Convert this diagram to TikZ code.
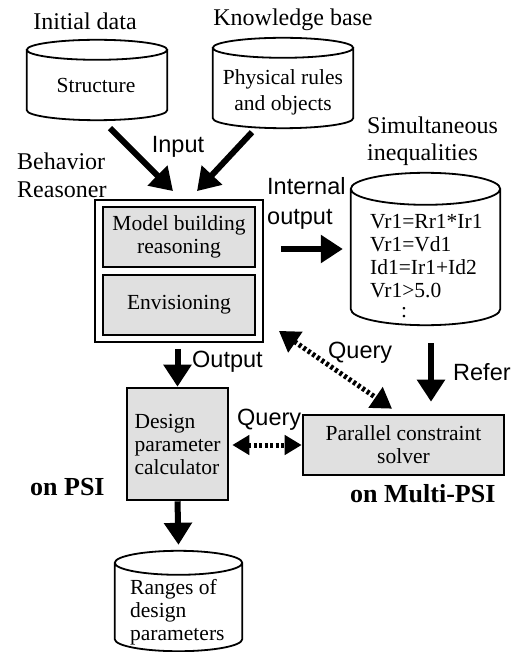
\documentclass[tikz,border=0pt]{standalone}
\usepackage{fontspec}
\setmainfont{Liberation Serif}
\newfontfamily\hv{Liberation Sans}
\usetikzlibrary{arrows.meta,calc}

% database drum drawn around the bounding box of a named node
\newcommand\drawdrum[2]{%
  \draw[drumline] let \p1=(#1.north west), \p2=(#1.south east), \n1={(\x2-\x1)/2} in
    (\x1,\y1-#2pt) -- (\x1,\y2+#2pt)
    arc[start angle=180,end angle=360,x radius=\n1,y radius=#2pt] -- (\x2,\y1-#2pt)
    (\x1+\n1,\y1-#2pt) ellipse[x radius=\n1,y radius=#2pt];
}

\begin{document}
\begin{tikzpicture}[x=1pt,y=-1pt,
  inner/.style={font=\fontsize{21.5}{23}\selectfont, inner sep=0pt},
  title/.style={font=\fontsize{24}{27.5}\selectfont, inner sep=0pt, align=left},
  sans/.style={font=\hv\fontsize{23.5}{30}\selectfont, inner sep=0pt, align=left},
  host/.style={font=\bfseries\fontsize{26}{30}\selectfont, inner sep=0pt},
  procbox/.style={draw, line width=2.6pt, fill=black!12, inner sep=0pt},
  frame/.style={draw, line width=1.8pt, inner sep=0pt},
  drumarea/.style={inner sep=0pt},
  drumline/.style={line width=1.8pt, fill=white},
  bigarrow/.style={line width=6pt, -{Triangle[length=22pt,width=27pt]}},
  dotarrow/.style={line width=5pt, dash pattern=on 3pt off 2.5pt,
     {Triangle[length=20pt,width=24pt]}-{Triangle[length=20pt,width=24pt]}},
  smalldot/.style={line width=5pt, dash pattern=on 3pt off 2.5pt,
     {Triangle[length=17pt,width=19pt]}-{Triangle[length=17pt,width=19pt]}},
]
\useasboundingbox (0,0) rectangle (518,652);

% ---- sources (multi-line nodes are placed by the baseline of their last line)
\node[title, anchor=base] (initlab) at (85,30) {Initial data};
\node[drumarea, minimum width=140, minimum height=80] (struct) at (97,80) {};
\drawdrum{struct}{10}
\node[inner, anchor=base] (structtxt) at (96,93) {Structure};

\node[title, anchor=base] (knowlab) at (293,26) {Knowledge base};
\node[drumarea, minimum width=140, minimum height=90] (know) at (283,83) {};
\drawdrum{know}{10}
\node[inner, anchor=base, align=center, font=\fontsize{21.5}{26}\selectfont] (knowtxt) at (283,111) {Physical rules\\and objects};

% ---- behavior reasoner
\node[title, anchor=base west] (reaslab) at (17,197) {Behavior\\Reasoner};
\node[frame, minimum width=168, minimum height=142] (reasoner) at (179,271) {};
\node[procbox, inner, minimum width=152, minimum height=60, align=center] (model) at (179,237) {Model building\\reasoning};
\node[procbox, inner, minimum width=152, minimum height=60] (envis) at (179,305) {Envisioning};

\node[sans, anchor=base] (inputlab) at (178,153) {Input};

% ---- inequalities store
\node[title, anchor=base west] (ineqlab) at (367,161) {Simultaneous\\inequalities};
\node[drumarea, minimum width=149, minimum height=152] (ineq) at (425.5,249) {};
\drawdrum{ineq}{16}
\node[inner, anchor=base west, align=left] (ineqtxt) at (370,297) {Vr1=Rr1*Ir1\\Vr1=Vd1\\Id1=Ir1+Id2\\Vr1>5.0};
\node[inner, anchor=base] (ineqdots) at (404,317) {:};
\node[sans, anchor=base west] (intlab) at (267,224) {Internal\\output};

% ---- calculators
\node[procbox, inner, minimum width=101, minimum height=112, align=left] (design) at (177.5,444) {Design\\parameter\\calculator};
\node[procbox, inner, minimum width=201, minimum height=60, align=center] (solver) at (403.5,445) {Parallel constraint\\solver};

\node[sans, anchor=base west] (outlab) at (192,367) {Output};
\node[sans, anchor=base west] (referlab) at (453,380) {Refer};
\node[sans, anchor=base west] (query1) at (328,358) {Query};
\node[sans, anchor=base west] (query2) at (237,425) {Query};
\node[host, anchor=base west] (psi) at (30,495) {on PSI};
\node[host, anchor=base west] (mpsi) at (350,502) {on Multi-PSI};

% ---- result store
\node[drumarea, minimum width=127, minimum height=100] (ranges) at (178.5,601) {};
\drawdrum{ranges}{12}
\node[inner, anchor=base west, align=left] (rangestxt) at (130,640) {Ranges of\\design\\parameters};

% ---- connectors
\draw[bigarrow] ([xshift=13pt,yshift=-8pt]struct.south) -- ([xshift=-6pt,yshift=8pt]reasoner.north);
\draw[bigarrow] ([xshift=-31pt,yshift=-4pt]know.south) -- ([xshift=18pt,yshift=8pt]reasoner.north);
\draw[bigarrow] ([xshift=17pt]reasoner.east |- ineq.west) -- ([xshift=-8pt]ineq.west);
\draw[bigarrow] ([yshift=-6pt]reasoner.south -| design.north) -- (design.north);
\draw[bigarrow] ([xshift=5.5pt,yshift=-18pt]ineq.south) -- ([xshift=27.5pt,yshift=12pt]solver.north);
\draw[bigarrow] (design.south) -- ([yshift=6pt]ranges.north);
\draw[dotarrow] ([xshift=15pt,yshift=12pt]reasoner.south east) -- ([xshift=-11.5pt,yshift=5pt]solver.north);
\draw[smalldot] ([xshift=3pt]design.east |- solver.west) -- (solver.west);
\end{tikzpicture}
\end{document}
